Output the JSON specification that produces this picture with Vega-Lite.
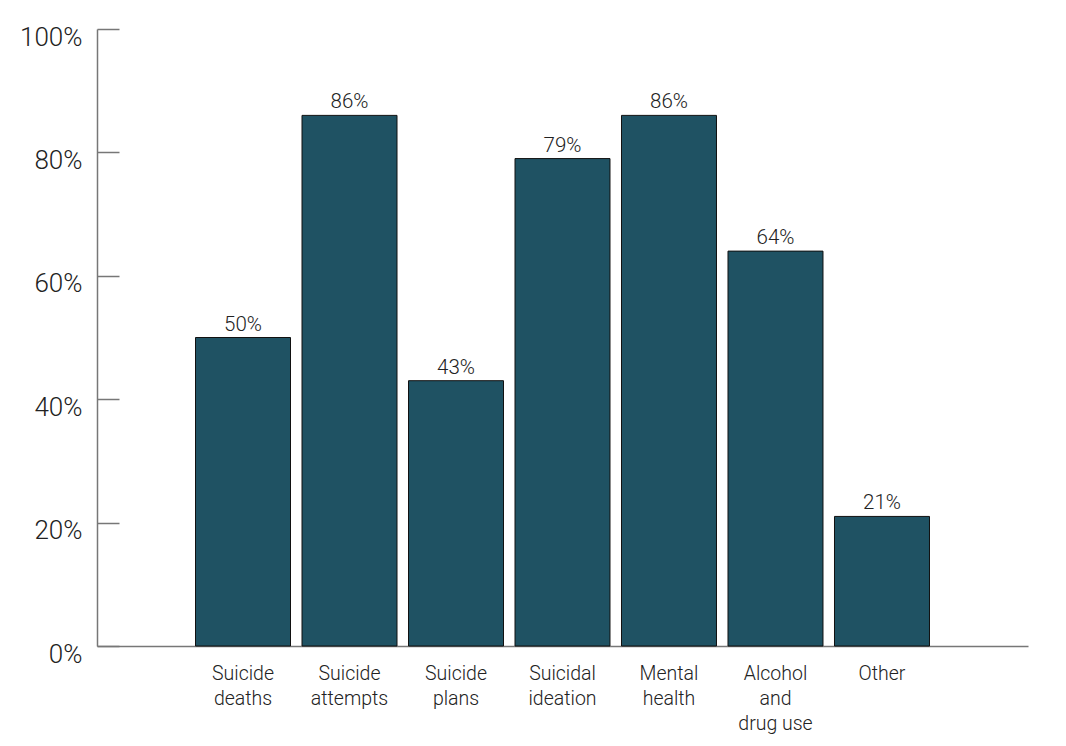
{
  "$schema": "https://vega.github.io/schema/vega-lite/v6.json",
  "width": 931,
  "height": 617,
  "autosize": {"type": "none"},
  "padding": {"left": 97, "top": 29, "right": 38, "bottom": 100},
  "background": "white",
  "config": {
    "view": {"stroke": null},
    "font": "Roboto"
  },
  "data": {
    "values": [
      {"category": "Suicide deaths", "value": 0.50},
      {"category": "Suicide attempts", "value": 0.86},
      {"category": "Suicide plans", "value": 0.43},
      {"category": "Suicidal ideation", "value": 0.79},
      {"category": "Mental health", "value": 0.86},
      {"category": "Alcohol and drug use", "value": 0.64},
      {"category": "Other", "value": 0.21}
    ]
  },
  "encoding": {
    "x": {
      "field": "category",
      "type": "nominal",
      "sort": null,
      "scale": {"paddingInner": 0.108, "paddingOuter": 0.925},
      "axis": {
        "title": null,
        "labelAngle": 0,
        "ticks": false,
        "domainColor": "#777",
        "domainWidth": 1.5,
        "labelFontSize": 19.5,
        "labelFontWeight": 300,
        "labelColor": "#222",
        "labelPadding": 18,
        "labelLineHeight": 25,
        "labelExpr": "datum.label == 'Alcohol and drug use' ? ['Alcohol', 'and', 'drug use'] : split(datum.label, ' ')"
      }
    },
    "y": {
      "field": "value",
      "type": "quantitative",
      "scale": {"domain": [0, 1]},
      "axis": {
        "title": null,
        "format": ".0%",
        "values": [0, 0.2, 0.4, 0.6, 0.8, 1],
        "grid": false,
        "tickSize": -22,
        "tickColor": "#777",
        "tickWidth": 1.5,
        "domainColor": "#777",
        "domainWidth": 1.5,
        "labelFontSize": 26,
        "labelFontWeight": 300,
        "labelColor": "#222",
        "labelPadding": 37,
        "labelOffset": 8
      }
    }
  },
  "layer": [
    {
      "mark": {"type": "bar", "color": "#1f5263", "stroke": "#111", "strokeWidth": 1}
    },
    {
      "mark": {"type": "text", "baseline": "bottom", "dy": -3, "fontSize": 20.5, "fontWeight": 300, "color": "#222"},
      "encoding": {
        "text": {"field": "value", "type": "quantitative", "format": ".0%"}
      }
    }
  ]
}
